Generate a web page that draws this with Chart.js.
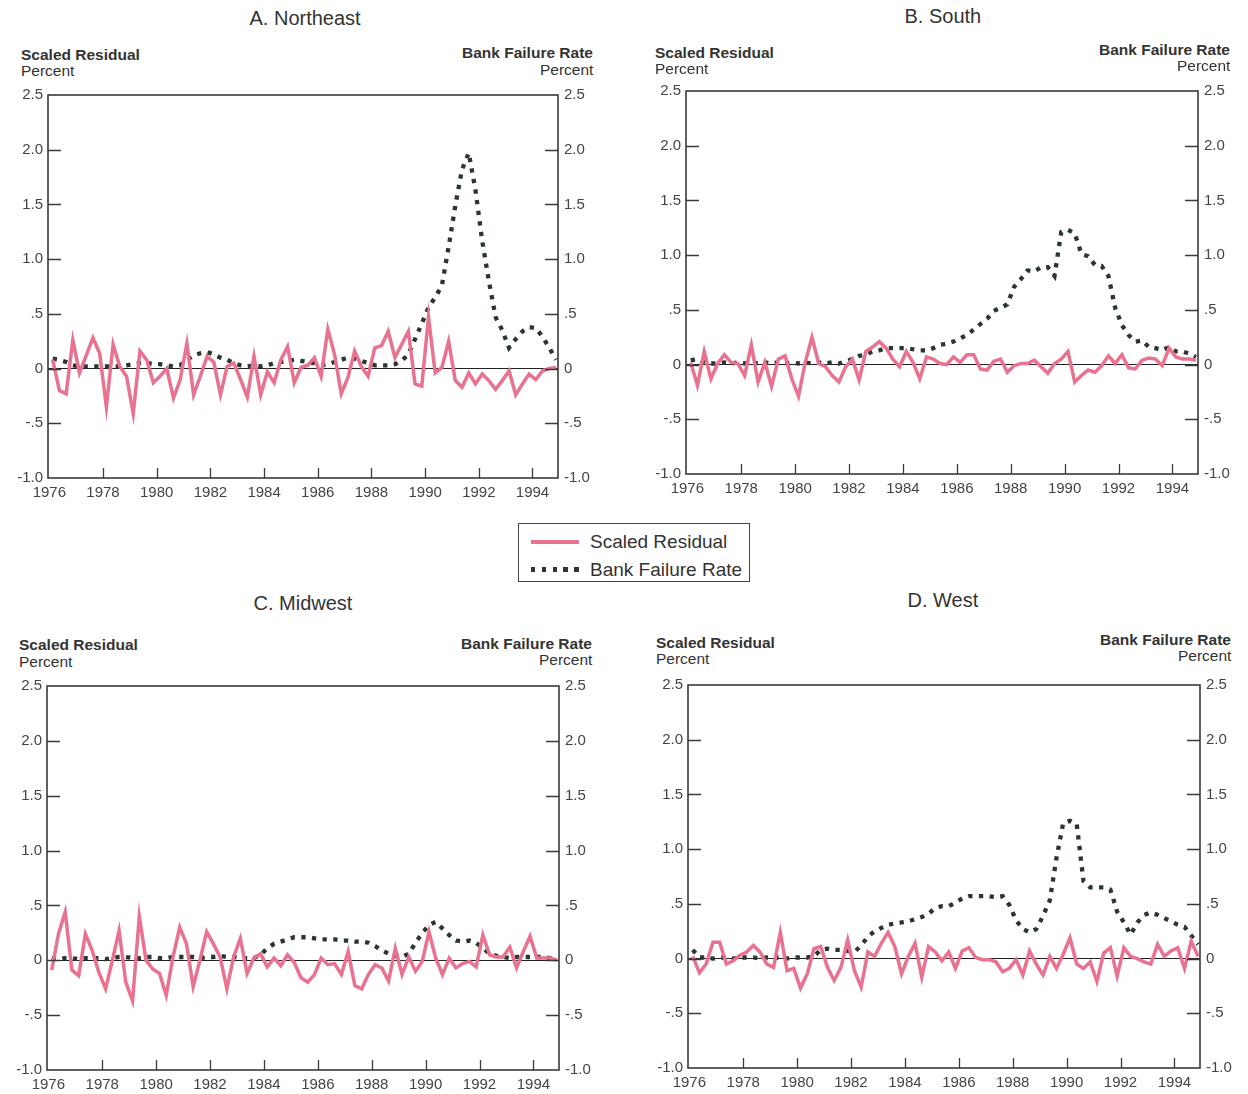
<!DOCTYPE html>
<html>
<head>
<meta charset="utf-8">
<script src="https://cdn.jsdelivr.net/npm/chart.js@4.4.1/dist/chart.umd.min.js"></script>
<style>
    body { margin: 0; background: #fff; width: 1248px; height: 1094px; position: relative; overflow: hidden; color: #333; font-family: "Liberation Sans", Arial, sans-serif; }
    canvas { position: absolute; }
    .txt { position: absolute; white-space: nowrap; }
    .title { font-size: 20px; line-height: 20px; }
    .head { font-weight: bold; font-size: 15.5px; line-height: 16px; }
    .unit { font-size: 15.5px; line-height: 16px; }
    #legend { position: absolute; left: 518px; top: 523px; width: 230px; height: 57px; border: 1.5px solid #444; }
    .swatch { position: absolute; left: 12px; width: 48px; }
    .legText { position: absolute; left: 71px; font-size: 19px; line-height: 19px; }
</style>
</head>
<body>

<div id="legend">
    <div class="swatch" style="top:16px;height:4px;background:#e8728f;"></div>
    <div class="legText" style="top:8px;">Scaled Residual</div>
    <div class="swatch" style="top:43px;height:5px;background:repeating-linear-gradient(90deg,#2b3632 0 4.4px,transparent 4.4px 10.8px);"></div>
    <div class="legText" style="top:36px;">Bank Failure Rate</div>
</div>

<script>
// quarterly observations, 1976Q1 - 1994Q4, plotted at mid-quarter
const quarters = [];
for (let year = 1976; year <= 1994; year++) {
    for (let q = 1; q <= 4; q++) quarters.push(year + (q - 0.5) / 4);
}

const xTicks = [1976, 1978, 1980, 1982, 1984, 1986, 1988, 1990, 1992, 1994];
const yTicks = [-1, -0.5, 0, 0.5, 1, 1.5, 2, 2.5];
const yTickLabels = ['-1.0', '-.5', '0', '.5', '1.0', '1.5', '2.0', '2.5'];

const residNortheast = [
    0.08, -0.20, -0.23, 0.26, -0.04, 0.12, 0.28, 0.14, -0.35, 0.22,
    0.02, -0.07, -0.41, 0.16, 0.08, -0.13, -0.07, 0.00, -0.27, -0.10,
    0.23, -0.24, -0.07, 0.11, 0.06, -0.24, 0.02, 0.05, -0.10, -0.26,
    0.11, -0.24, -0.03, -0.13, 0.08, 0.20, -0.13, 0.01, 0.03, 0.10,
    -0.07, 0.36, 0.13, -0.23, -0.08, 0.16, 0.02, -0.07, 0.19, 0.21,
    0.34, 0.10, 0.22, 0.34, -0.14, -0.16, 0.47, -0.04, 0.01, 0.25,
    -0.11, -0.17, -0.04, -0.14, -0.05, -0.11, -0.19, -0.11, -0.02, -0.24,
    -0.14, -0.05, -0.10, -0.02, 0.00, 0.01
];
const failNortheast = [
    0.09, 0.08, 0.06, 0.03, 0.02, 0.02, 0.02, 0.02, 0.02, 0.02,
    0.02, 0.03, 0.04, 0.05, 0.05, 0.04, 0.04, 0.03, 0.02, 0.03,
    0.08, 0.12, 0.14, 0.15, 0.13, 0.10, 0.08, 0.05, 0.03, 0.02,
    0.03, 0.02, 0.03, 0.05, 0.06, 0.07, 0.08, 0.07, 0.06, 0.05,
    0.03, 0.04, 0.06, 0.08, 0.10, 0.09, 0.07, 0.05, 0.03, 0.03,
    0.03, 0.04, 0.07, 0.13, 0.27, 0.41, 0.56, 0.65, 0.76, 1.11,
    1.49, 1.82, 1.97, 1.63, 1.17, 0.80, 0.47, 0.35, 0.19, 0.27,
    0.34, 0.38, 0.37, 0.29, 0.19, 0.08
];

const residSouth = [
    0.02, -0.19, 0.12, -0.13, 0.01, 0.09, 0.02, 0.01, -0.10, 0.18,
    -0.16, 0.02, -0.20, 0.05, 0.08, -0.13, -0.29, 0.02, 0.25, 0.01,
    -0.02, -0.10, -0.16, -0.02, 0.05, -0.14, 0.12, 0.16, 0.21, 0.15,
    0.05, -0.02, 0.12, 0.02, -0.13, 0.07, 0.05, 0.01, 0.00, 0.07,
    0.02, 0.09, 0.09, -0.04, -0.05, 0.03, 0.05, -0.07, -0.01, 0.01,
    0.01, 0.04, -0.02, -0.08, 0.01, 0.05, 0.12, -0.16, -0.10, -0.05,
    -0.07, -0.01, 0.08, 0.01, 0.09, -0.03, -0.04, 0.04, 0.06, 0.05,
    -0.01, 0.15, 0.07, 0.05, 0.05, 0.04
];
const failSouth = [
    0.04, 0.05, 0.02, 0.01, 0.01, 0.02, 0.01, 0.02, 0.01, 0.02,
    0.01, 0.02, 0.01, 0.02, 0.01, 0.02, 0.01, 0.02, 0.01, 0.02,
    0.01, 0.02, 0.01, 0.03, 0.05, 0.08, 0.09, 0.12, 0.13, 0.15,
    0.15, 0.15, 0.15, 0.14, 0.13, 0.13, 0.15, 0.18, 0.19, 0.21,
    0.24, 0.27, 0.32, 0.37, 0.42, 0.49, 0.52, 0.55, 0.71, 0.78,
    0.86, 0.85, 0.89, 0.89, 0.81, 1.21, 1.23, 1.20, 1.01, 0.99,
    0.91, 0.90, 0.81, 0.52, 0.36, 0.27, 0.21, 0.22, 0.16, 0.15,
    0.13, 0.16, 0.12, 0.12, 0.10, 0.07
];

const residMidwest = [
    -0.09, 0.24, 0.44, -0.09, -0.14, 0.24, 0.09, -0.11, -0.26, 0.00,
    0.27, -0.20, -0.37, 0.40, 0.00, -0.08, -0.12, -0.32, 0.03, 0.30,
    0.15, -0.24, 0.00, 0.26, 0.15, 0.03, -0.26, 0.03, 0.20, -0.12,
    0.02, 0.06, -0.06, 0.02, -0.05, 0.05, -0.02, -0.16, -0.20, -0.13,
    0.02, -0.04, -0.03, -0.13, 0.08, -0.23, -0.26, -0.13, -0.04, -0.07,
    -0.19, 0.11, -0.13, 0.03, -0.10, -0.01, 0.26, 0.02, -0.13, 0.02,
    -0.07, -0.03, -0.01, -0.06, 0.23, 0.05, 0.03, 0.03, 0.12, -0.07,
    0.08, 0.22, 0.02, 0.02, 0.02, 0.00
];
const failMidwest = [
    0.02, 0.01, 0.02, 0.02, 0.01, 0.02, 0.02, 0.02, 0.01, 0.02,
    0.03, 0.03, 0.02, 0.02, 0.03, 0.03, 0.02, 0.02, 0.03, 0.03,
    0.03, 0.03, 0.02, 0.03, 0.03, 0.04, 0.03, 0.03, 0.02, 0.02,
    0.02, 0.05, 0.11, 0.15, 0.17, 0.19, 0.21, 0.21, 0.21, 0.20,
    0.19, 0.19, 0.19, 0.18, 0.18, 0.17, 0.17, 0.16, 0.13, 0.09,
    0.06, 0.04, 0.03, 0.06, 0.16, 0.25, 0.32, 0.35, 0.29, 0.23,
    0.18, 0.17, 0.18, 0.16, 0.11, 0.06, 0.04, 0.03, 0.02, 0.03,
    0.03, 0.03, 0.03, 0.03, 0.02, 0.00
];

const residWest = [
    0.02, -0.13, -0.05, 0.15, 0.15, -0.05, -0.02, 0.03, 0.06, 0.12,
    0.06, -0.05, -0.08, 0.24, -0.11, -0.09, -0.27, -0.14, 0.09, 0.11,
    -0.08, -0.20, -0.08, 0.17, -0.11, -0.26, 0.06, 0.02, 0.14, 0.24,
    0.11, -0.14, 0.02, 0.14, -0.17, 0.11, 0.06, -0.02, 0.06, -0.09,
    0.07, 0.10, 0.01, -0.01, -0.01, -0.03, -0.12, -0.09, -0.01, -0.15,
    0.07, -0.05, -0.15, 0.02, -0.09, 0.04, 0.19, -0.05, -0.09, -0.03,
    -0.21, 0.05, 0.10, -0.16, 0.10, 0.02, 0.00, -0.03, -0.05, 0.13,
    0.02, 0.07, 0.10, -0.09, 0.16, 0.02
];
const failWest = [
    0.08, 0.01, 0.01, 0.00, 0.01, 0.01, 0.00, 0.01, 0.01, 0.01,
    0.00, 0.01, 0.01, 0.01, 0.00, 0.01, 0.01, 0.01, 0.02, 0.08,
    0.09, 0.08, 0.08, 0.07, 0.06, 0.12, 0.20, 0.25, 0.28, 0.31,
    0.32, 0.33, 0.34, 0.36, 0.38, 0.41, 0.46, 0.48, 0.48, 0.51,
    0.55, 0.57, 0.57, 0.57, 0.57, 0.56, 0.57, 0.49, 0.35, 0.27,
    0.24, 0.27, 0.39, 0.53, 0.92, 1.24, 1.26, 1.23, 0.71, 0.65,
    0.65, 0.65, 0.63, 0.43, 0.33, 0.22, 0.33, 0.40, 0.42, 0.40,
    0.37, 0.34, 0.31, 0.29, 0.21, 0.13
];

const panels = [
    { title: 'A. Northeast', resid: residNortheast, fail: failNortheast,
      area: { left: 48, top: 95, right: 558, bottom: 478 },
      titleAt: [305, 18], leftHead: [21, 55, 71], rightHead: [593, 53, 70] },
    { title: 'B. South', resid: residSouth, fail: failSouth,
      area: { left: 686, top: 91, right: 1198, bottom: 474 },
      titleAt: [943, 16], leftHead: [655, 53, 69], rightHead: [1230, 50, 66] },
    { title: 'C. Midwest', resid: residMidwest, fail: failMidwest,
      area: { left: 47, top: 686, right: 559, bottom: 1070 },
      titleAt: [303, 603], leftHead: [19, 645, 662], rightHead: [592, 644, 660] },
    { title: 'D. West', resid: residWest, fail: failWest,
      area: { left: 688, top: 685, right: 1200, bottom: 1068 },
      titleAt: [943, 600], leftHead: [656, 643, 659], rightHead: [1231, 640, 656] }
];

const PINK = '#e8728f';
const DOTS = '#2b3632';

Chart.defaults.font.family = '"Liberation Sans", Arial, sans-serif';
Chart.defaults.font.size = 15;
Chart.defaults.color = '#444';

function addText(text, x, y, cls, align) {
    const el = document.createElement('div');
    el.className = 'txt ' + cls;
    el.textContent = text;
    document.body.appendChild(el);
    const h = el.offsetHeight;
    let left = x;
    if (align === 'center') left = x - el.offsetWidth / 2;
    if (align === 'right') left = x - el.offsetWidth;
    el.style.left = left + 'px';
    el.style.top = (y - h / 2) + 'px';
}

// inward tick marks and the closed plot frame
const frameTicks = {
    id: 'frameTicks',
    afterDraw(chart) {
        const { ctx, chartArea: a, scales } = chart;
        ctx.save();
        ctx.strokeStyle = '#3a3a3a';
        ctx.lineWidth = 1.3;
        ctx.beginPath();
        scales.y.ticks.forEach(t => {
            if (t.value <= -1 || t.value >= 2.5) return;
            const py = Math.round(scales.y.getPixelForValue(t.value)) + 0.5;
            ctx.moveTo(a.left, py);
            ctx.lineTo(a.left + 13, py);
            ctx.moveTo(a.right, py);
            ctx.lineTo(a.right - 13, py);
        });
        scales.x.ticks.forEach(t => {
            const px = Math.round(scales.x.getPixelForValue(t.value)) + 0.5;
            if (px <= a.left + 3) return;
            ctx.moveTo(px, a.bottom);
            ctx.lineTo(px, a.bottom - 10);
        });
        ctx.stroke();
        ctx.lineWidth = 1.6;
        ctx.strokeRect(a.left, a.top, a.right - a.left, a.bottom - a.top);
        ctx.restore();
    }
};

const yAxis = (position, pad) => ({
    type: 'linear',
    position: position,
    min: -1,
    max: 2.5,
    afterBuildTicks: s => { s.ticks = yTicks.map(v => ({ value: v })); },
    afterFit: s => { s.width = position === 'left' ? 50 : 70; },
    ticks: {
        padding: pad,
        callback: (v, i) => yTickLabels[i]
    },
    border: { display: false },
    grid: position === 'left'
        ? { drawTicks: false, lineWidth: 1, color: c => (c.tick && c.tick.value === 0) ? '#222' : 'rgba(0,0,0,0)' }
        : { display: false, drawTicks: false }
});

panels.forEach(p => {
    const a = p.area;
    const canvas = document.createElement('canvas');
    canvas.width = (a.right - a.left) + 50 + 70;
    canvas.height = (a.bottom - a.top) + 16 + 34;
    canvas.style.left = (a.left - 50) + 'px';
    canvas.style.top = (a.top - 16) + 'px';
    document.body.appendChild(canvas);

    new Chart(canvas, {
        type: 'line',
        data: {
            datasets: [
                {
                    label: 'Scaled Residual',
                    data: quarters.map((x, i) => ({ x: x, y: p.resid[i] })),
                    borderColor: PINK,
                    borderWidth: 3.5,
                    pointRadius: 0,
                    tension: 0,
                    yAxisID: 'y'
                },
                {
                    label: 'Bank Failure Rate',
                    data: quarters.map((x, i) => ({ x: x, y: p.fail[i] })),
                    borderColor: DOTS,
                    borderWidth: 4.3,
                    borderDash: [4.3, 6.4],
                    borderCapStyle: 'butt',
                    pointRadius: 0,
                    tension: 0,
                    yAxisID: 'y2'
                }
            ]
        },
        options: {
            responsive: false,
            animation: false,
            devicePixelRatio: 1,
            layout: { padding: { top: 16, left: 0, right: 0, bottom: 0 } },
            plugins: {
                legend: { display: false },
                tooltip: { enabled: false }
            },
            scales: {
                x: {
                    type: 'linear',
                    min: 1975.95,
                    max: 1994.95,
                    afterBuildTicks: s => { s.ticks = xTicks.map(v => ({ value: v })); },
                    afterFit: s => { s.height = 34; },
                    ticks: {
                        padding: 6,
                        maxRotation: 0,
                        autoSkip: false,
                        callback: v => String(v)
                    },
                    border: { display: false },
                    grid: { display: false, drawTicks: false }
                },
                y: yAxis('left', 5),
                y2: yAxis('right', 6)
            }
        },
        plugins: [frameTicks]
    });

    addText(p.title, p.titleAt[0], p.titleAt[1], 'title', 'center');
    addText('Scaled Residual', p.leftHead[0], p.leftHead[1], 'head', 'left');
    addText('Percent', p.leftHead[0], p.leftHead[2], 'unit', 'left');
    addText('Bank Failure Rate', p.rightHead[0], p.rightHead[1], 'head', 'right');
    addText('Percent', p.rightHead[0], p.rightHead[2], 'unit', 'right');
});
</script>
</body>
</html>
